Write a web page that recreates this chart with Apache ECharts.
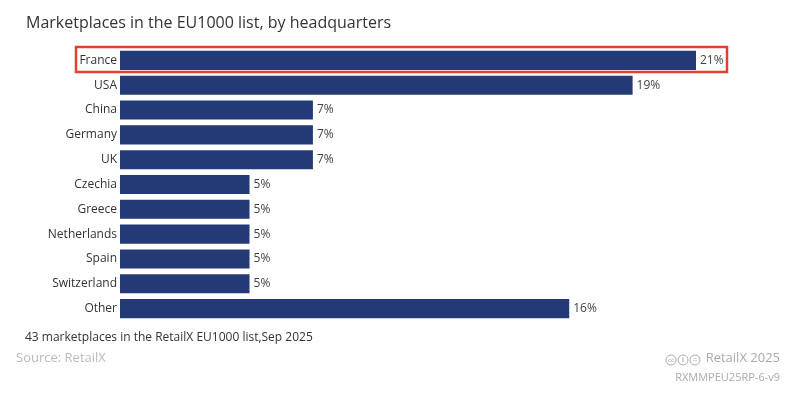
<!DOCTYPE html>
<html>
<head>
<meta charset="utf-8">
<script src="https://cdn.jsdelivr.net/npm/echarts@6/dist/echarts.min.js"></script>
<style>
html, body { margin: 0; padding: 0; background: #fff; }
#chart { width: 800px; height: 397px; }
</style>
</head>
<body>
<div id="chart"></div>
<script>
var countries = ['France', 'USA', 'China', 'Germany', 'UK', 'Czechia', 'Greece', 'Netherlands', 'Spain', 'Switzerland', 'Other'];
var shares = [20.9, 18.6, 7.0, 7.0, 7.0, 4.7, 4.7, 4.7, 4.7, 4.7, 16.3];

var font = '"Open Sans", "Noto Sans", sans-serif';
var myChart = echarts.init(document.getElementById('chart'));

var option = {
	animation: false,
	textStyle: { fontFamily: font },
	title: {
		text: 'Marketplaces in the EU1000 list, by headquarters',
		left: 21,
		top: 10,
		textStyle: { fontFamily: font, fontSize: 16, fontWeight: 'normal', color: '#333' }
	},
	grid: { left: 120, right: 104, top: 48, bottom: 76 },
	xAxis: {
		type: 'value',
		min: 0,
		max: 20.9,
		show: false
	},
	yAxis: {
		type: 'category',
		inverse: true,
		data: countries,
		axisLine: { show: false },
		axisTick: { show: false },
		axisLabel: { margin: 3, fontSize: 12, color: '#333', fontFamily: font }
	},
	series: [{
		type: 'bar',
		data: shares,
		barCategoryGap: '23%',
		itemStyle: { color: '#233a77' },
		label: {
			show: true,
			position: 'right',
			distance: 4,
			fontSize: 12,
			color: '#444',
			fontFamily: font,
			formatter: function (p) { return Math.round(p.value) + '%'; }
		}
	}],
	graphic: [
		{
			type: 'rect',
			shape: { x: 76, y: 47, width: 651, height: 25 },
			style: { fill: 'none', stroke: '#e0412b', lineWidth: 2.5 }
		},
		{
			type: 'text', left: 25, top: 332,
			style: { text: '43 marketplaces in the RetailX EU1000 list,Sep 2025', fontSize: 12, fill: '#333', fontFamily: font }
		},
		{
			type: 'text', left: 16, top: 352,
			style: { text: 'Source: RetailX', fontSize: 13, fill: '#bbb', fontFamily: font }
		},
		{
			type: 'text', right: 20, top: 352,
			style: { text: 'RetailX 2025', fontSize: 13, fill: '#aaa', fontFamily: font }
		},
		{
			type: 'text', right: 20, top: 372,
			style: { text: 'RXMMPEU25RP-6-v9', fontSize: 11, fill: '#aaa', fontFamily: font }
		},
		{ type: 'circle', shape: { cx: 671, cy: 360, r: 5 }, style: { fill: 'none', stroke: '#aaa', lineWidth: 1 } },
		{ type: 'text', x: 671, y: 360, style: { text: 'cc', fontSize: 6, fill: '#aaa', align: 'center', verticalAlign: 'middle' } },
		{ type: 'circle', shape: { cx: 683, cy: 360, r: 5 }, style: { fill: 'none', stroke: '#aaa', lineWidth: 1 } },
		{ type: 'text', x: 683, y: 360, style: { text: 'i', fontSize: 7, fontWeight: 'bold', fill: '#aaa', align: 'center', verticalAlign: 'middle' } },
		{ type: 'circle', shape: { cx: 695, cy: 360, r: 5 }, style: { fill: 'none', stroke: '#aaa', lineWidth: 1 } },
		{ type: 'text', x: 695, y: 360, style: { text: '=', fontSize: 7, fill: '#aaa', align: 'center', verticalAlign: 'middle' } }
	]
};
myChart.setOption(option);
</script>
</body>
</html>
